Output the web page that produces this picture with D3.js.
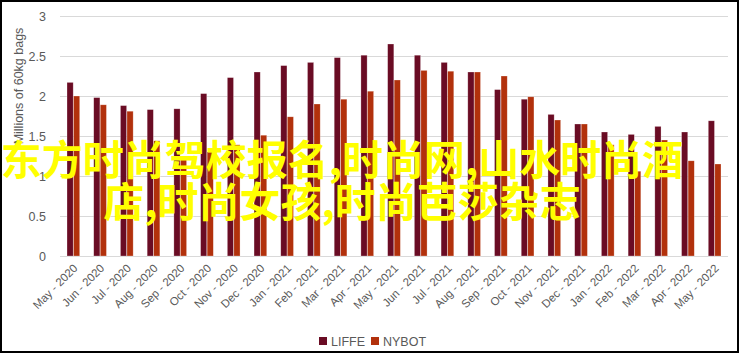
<!DOCTYPE html>
<html>
<head>
<meta charset="utf-8">
<script src="https://cdn.jsdelivr.net/npm/d3@7"></script>
<style>
  body { margin: 0; background: #fff; }
  svg { display: block; }
  .tick text { fill: #595959; font-family: "Liberation Sans", Arial, sans-serif; }
</style>
</head>
<body>
<svg id="svg" width="740" height="354"></svg>
<script>
const months = ['May - 2020', 'Jun - 2020', 'Jul - 2020', 'Aug - 2020', 'Sep - 2020', 'Oct - 2020',
  'Nov - 2020', 'Dec - 2020', 'Jan - 2021', 'Feb - 2021', 'Mar - 2021', 'Apr - 2021', 'May - 2021',
  'Jun - 2021', 'Jul - 2021', 'Aug - 2021', 'Sep - 2021', 'Oct - 2021', 'Nov - 2021', 'Dec - 2021',
  'Jan - 2022', 'Feb - 2022', 'Mar - 2022', 'Apr - 2022', 'May - 2022']
const seriesNames = ['LIFFE', 'NYBOT']
const liffe = [2.17, 1.98, 1.88, 1.83, 1.84, 2.03, 2.23, 2.30, 2.38, 2.42, 2.48, 2.51, 2.65,
  2.51, 2.42, 2.30, 2.08, 1.96, 1.77, 1.65, 1.55, 1.52, 1.62, 1.55, 1.69]
const nybot = [2.00, 1.89, 1.81, 1.44, 1.25, 1.30, 1.39, 1.51, 1.74, 1.90, 1.96, 2.06, 2.20,
  2.32, 2.31, 2.30, 2.25, 1.99, 1.70, 1.65, 1.39, 1.06, 1.45, 1.19, 1.15]
const yTicks = [0, 0.5, 1, 1.5, 2, 2.5, 3]
const yTitle = 'Millions of 60kg bags'
const overlayLines = ['东方时尚驾校报名,时尚网,山水时尚酒', '店,时尚女孩,时尚芭莎杂志']

const colors = { LIFFE: '#6a0c24', NYBOT: '#b2310c' }

const svg = d3.select('#svg')

const xScale = d3.scaleBand()
  .domain(months)
  .range([60, 728])
  .paddingInner(0.5)
  .paddingOuter(0.25)

const xSub = d3.scaleBand()
  .domain(seriesNames)
  .range([0, xScale.bandwidth()])
  .padding(0.05)

const yScale = d3.scaleLinear()
  .domain([0, 3])
  .range([256, 16])

// gridlines + y labels
svg.append('g')
  .attr('transform', 'translate(60,0)')
  .call(d3.axisLeft(yScale).tickValues(yTicks).tickSize(-668).tickPadding(14).tickFormat(d3.format('')))
  .call(g => g.select('.domain').remove())
  .call(g => g.selectAll('.tick line').attr('stroke', '#d9d9d9').attr('stroke-width', 1))
  .call(g => g.selectAll('.tick text').attr('font-size', 12.5))

// bars
const rows = months.map((m, i) => ({ month: m, LIFFE: liffe[i], NYBOT: nybot[i] }))

svg.append('g')
  .selectAll('g')
  .data(rows)
  .join('g')
  .attr('transform', d => `translate(${xScale(d.month)},0)`)
  .selectAll('rect')
  .data(d => seriesNames.map(s => ({ key: s, value: d[s] })))
  .join('rect')
  .attr('x', d => xSub(d.key))
  .attr('width', xSub.bandwidth())
  .attr('y', d => yScale(d.value))
  .attr('height', d => yScale(0) - yScale(d.value))
  .attr('fill', d => colors[d.key])
  .attr('stroke', 'rgba(255,255,255,0.45)')
  .attr('stroke-width', 0.6)

// x axis labels
svg.append('g')
  .attr('transform', 'translate(0,256)')
  .call(d3.axisBottom(xScale).tickSize(0).tickPadding(0))
  .call(g => g.select('.domain').remove())
  .call(g => g.selectAll('.tick text')
    .attr('font-size', 11.5)
    .attr('text-anchor', 'end')
    .attr('dy', 0)
    .attr('transform', 'translate(5,13) rotate(-45)'))

// y title
svg.append('text')
  .attr('transform', 'translate(23,86) rotate(-90)')
  .attr('text-anchor', 'middle')
  .attr('font-family', '"Liberation Sans", Arial, sans-serif')
  .attr('font-size', 12.5)
  .attr('fill', '#595959')
  .text(yTitle)

// legend
const legend = svg.append('g').attr('transform', 'translate(319,341)')
const legendX = [0, 52]
seriesNames.forEach((s, i) => {
  legend.append('rect')
    .attr('x', legendX[i]).attr('y', -4)
    .attr('width', 8).attr('height', 8)
    .attr('fill', colors[s])
  legend.append('text')
    .attr('x', legendX[i] + 12).attr('y', 4.5)
    .attr('font-family', '"Liberation Sans", Arial, sans-serif')
    .attr('font-size', 12.5)
    .attr('fill', '#595959')
    .text(s)
})

// frame
svg.append('rect')
  .attr('x', 1).attr('y', 1)
  .attr('width', 737).attr('height', 351)
  .attr('fill', 'none')
  .attr('stroke', '#000')
  .attr('stroke-width', 2)

// overlay text
svg.append('g')
  .selectAll('text')
  .data(overlayLines)
  .join('text')
  .attr('x', 342)
  .attr('y', (d, i) => 175 + i * 42)
  .attr('text-anchor', 'middle')
  .attr('font-family', '"Noto Sans CJK SC", sans-serif')
  .attr('font-weight', 'bold')
  .attr('font-size', 41)
  .attr('fill', '#ffff00')
  .text(d => d)
</script>
</body>
</html>
